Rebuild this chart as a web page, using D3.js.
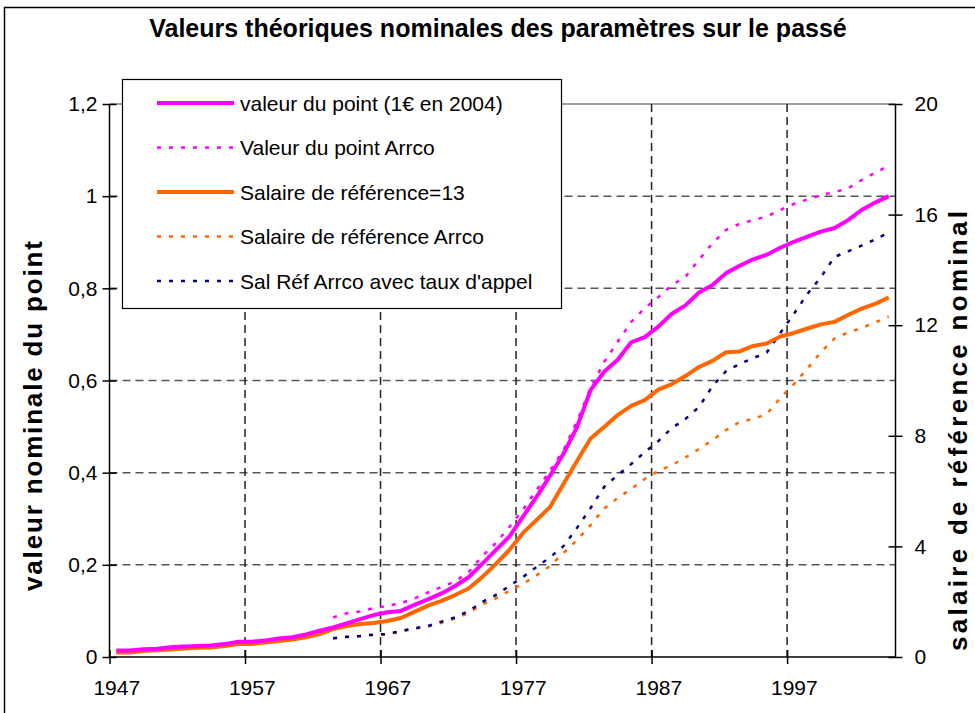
<!DOCTYPE html>
<html><head><meta charset="utf-8">
<script src="https://cdn.jsdelivr.net/npm/d3@7"></script>
<style>body{margin:0;background:#fff} svg text{font-family:"Liberation Sans",Arial,sans-serif;fill:#000}</style>
</head><body><svg id="c" width="975" height="713"></svg>
<script>
// ---------- data ----------
const years = d3.range(1947, 2005);
const xTickYears = [1947, 1957, 1967, 1977, 1987, 1997];
const leftTicks = [0, 0.2, 0.4, 0.6, 0.8, 1.0, 1.2];
const rightTicks = [0, 4, 8, 12, 16, 20];

// valeur du point (1€ en 2004) — left axis, 1947..2004
const pointValue = [0.014,0.014,0.017,0.018,0.021,0.023,0.024,0.025,0.028,0.033,
  0.033,0.036,0.040,0.043,0.049,0.057,0.064,0.073,0.082,0.091,
  0.097,0.100,0.113,0.125,0.138,0.154,0.173,0.202,0.232,0.261,
  0.304,0.347,0.393,0.441,0.499,0.579,0.619,0.645,0.683,0.694,
  0.717,0.745,0.763,0.791,0.807,0.833,0.849,0.863,0.873,0.888,
  0.901,0.912,0.923,0.931,0.948,0.970,0.986,1.000];
// Valeur du point Arrco — left axis, 1963..2004
const pointArrco = [0.086,0.095,0.099,0.106,0.111,0.117,0.127,0.140,0.152,0.164,
  0.184,0.219,0.247,0.282,0.319,0.362,0.404,0.449,0.512,0.584,
  0.640,0.684,0.727,0.757,0.781,0.807,0.825,0.862,0.898,0.927,
  0.940,0.948,0.956,0.970,0.983,0.993,1.002,1.009,1.017,1.035,
  1.051,1.066];
// Salaire de référence=13 — right axis, 1947..2004
const salRef = [0.16,0.16,0.22,0.24,0.27,0.31,0.33,0.34,0.40,0.47,
  0.47,0.52,0.58,0.63,0.71,0.83,1.01,1.12,1.19,1.23,
  1.30,1.41,1.63,1.86,2.03,2.24,2.48,2.89,3.36,3.87,
  4.48,4.95,5.42,6.26,7.09,7.90,8.32,8.75,9.08,9.29,
  9.67,9.87,10.16,10.49,10.71,11.02,11.05,11.25,11.34,11.59,
  11.72,11.88,12.03,12.12,12.37,12.60,12.77,13.00];
// Salaire de référence Arrco — right axis, 1963..2004
const salRefArrco = [0.67,0.72,0.75,0.80,0.82,0.92,1.02,1.10,1.24,1.39,
  1.59,1.90,2.12,2.39,2.64,2.95,3.29,3.76,4.23,4.77,
  5.37,5.75,6.08,6.44,6.73,6.94,7.22,7.52,7.85,8.21,
  8.50,8.61,8.79,9.37,9.87,10.43,11.03,11.52,11.74,11.90,
  12.10,12.31];
// Sal Réf Arrco avec taux d'appel — right axis, 1963..2004
const salRefAppel = [0.68,0.73,0.76,0.81,0.83,0.94,1.04,1.12,1.28,1.43,
  1.66,1.99,2.24,2.57,2.89,3.25,3.60,4.01,4.67,5.39,
  6.15,6.58,6.98,7.41,7.81,8.28,8.61,9.04,9.80,10.34,
  10.60,10.81,11.01,11.72,12.41,13.13,13.74,14.47,14.67,14.88,
  15.10,15.35];
const arrcoStart = 1963;

const seriesNames = ["valeur du point (1€ en 2004)", "Valeur du point Arrco",
  "Salaire de référence=13", "Salaire de référence Arrco", "Sal Réf Arrco avec taux d'appel"];
const seriesColors = ["#FF00FF", "#FF00FF", "#FF6600", "#FF6600", "#000080"];

// ---------- layout ----------
const svg = d3.select("#c");
const L = 109.5, R = 895.5, T = 104, B = 657;
const x = d3.scaleLinear().domain([1946.5, 2004.5]).range([L, R]);
const yL = d3.scaleLinear().domain([0, 1.2]).range([B, T]);
const yR = d3.scaleLinear().domain([0, 20]).range([B, T]);
const fr = d3.formatLocale({decimal: ",", thousands: " ", grouping: [3], currency: ["", "€"]});
const fmt = fr.format("~g");

// outer border
svg.append("rect").attr("x", 4.5).attr("y", 7.5).attr("width", 1000).attr("height", 1000)
  .attr("fill", "none").attr("stroke", "#000").attr("stroke-width", 1.5);

// title
svg.append("text").attr("x", 498).attr("y", 37).attr("text-anchor", "middle")
  .attr("font-weight", "bold").attr("font-size", 25).text("Valeurs théoriques nominales des paramètres sur le passé");

// gridlines
const g = svg.append("g");
g.selectAll("line.hg").data(leftTicks.filter(d => d > 0 && d < 1.2)).join("line")
  .attr("x1", L).attr("x2", R).attr("y1", d => yL(d)).attr("y2", d => yL(d))
  .attr("stroke", "#555").attr("stroke-width", 1.5).attr("stroke-dasharray", "8,5");
g.append("line").attr("x1", L).attr("x2", R).attr("y1", yL(1.2)).attr("y2", yL(1.2))
  .attr("stroke", "#808080").attr("stroke-width", 1.5);
g.selectAll("line.vg").data(xTickYears.slice(1)).join("line")
  .attr("x1", d => x(d - 0.5)).attr("x2", d => x(d - 0.5)).attr("y1", T).attr("y2", B)
  .attr("stroke", "#222").attr("stroke-width", 1.5).attr("stroke-dasharray", "8,5");

// axes
const axL = svg.append("g").attr("transform", `translate(${L},0)`)
  .call(d3.axisLeft(yL).tickValues(leftTicks).tickFormat(fmt).tickSizeInner(7).tickSizeOuter(0).tickPadding(5));
axL.selectAll(".tick line").attr("x2", 7).attr("x1", -7);
const axR = svg.append("g").attr("transform", `translate(${R},0)`)
  .call(d3.axisRight(yR).tickValues(rightTicks).tickFormat(fmt).tickSizeInner(7).tickSizeOuter(0).tickPadding(12));
axR.selectAll(".tick line").attr("x1", -7).attr("x2", 7);
const axB = svg.append("g").attr("transform", `translate(0,${B})`)
  .call(d3.axisBottom(x).tickValues(xTickYears.map(d => d - 0.5)).tickFormat(d => d + 0.5)
    .tickSizeInner(7).tickSizeOuter(0).tickPadding(16));
axB.selectAll(".tick line").attr("y1", -7).attr("y2", 7);
axB.selectAll(".tick text").attr("x", x(1948) - x(1947.5));
[axL, axR, axB].forEach(a => {
  a.selectAll(".domain").attr("stroke", "#000").attr("stroke-width", 1.5);
  a.selectAll(".tick line").attr("stroke", "#000").attr("stroke-width", 1.5);
  a.selectAll(".tick text").attr("font-size", 21).attr("font-family", '"Liberation Sans",Arial,sans-serif');
});
axB.select(".domain").attr("d", `M${L},0H${R}`);
axL.select(".domain").attr("d", `M0,${T}V${B}`);
axR.select(".domain").attr("d", `M0,${T}V${B}`);

// axis titles
svg.append("text").attr("transform", `translate(42,416) rotate(-90)`)
  .attr("text-anchor", "middle").attr("font-weight", "bold").attr("font-size", 26)
  .attr("textLength", 350).attr("lengthAdjust", "spacing")
  .text("valeur nominale du point");
svg.append("text").attr("transform", `translate(967,431) rotate(-90)`)
  .attr("text-anchor", "middle").attr("font-weight", "bold").attr("font-size", 26)
  .attr("textLength", 440).attr("lengthAdjust", "spacing")
  .text("salaire de référence nominal");

// series
const toPts = (vals, start) => vals.map((v, i) => ({year: start + i, v}));
const series = [
  {pts: toPts(pointValue, 1947), y: yL, dash: null, w: 4},
  {pts: toPts(pointArrco, arrcoStart), y: yL, dash: "4,8", w: 2.5},
  {pts: toPts(salRef, 1947), y: yR, dash: null, w: 4},
  {pts: toPts(salRefArrco, arrcoStart), y: yR, dash: "4,8", w: 2.5},
  {pts: toPts(salRefAppel, arrcoStart), y: yR, dash: "4,8", w: 2.5}
];
const drawOrder = [3, 4, 1, 2, 0];
drawOrder.forEach(i => {
  const s = series[i];
  const line = d3.line().x(d => x(d.year)).y(d => s.y(d.v));
  svg.append("path").attr("d", line(s.pts)).attr("fill", "none")
    .attr("stroke", seriesColors[i]).attr("stroke-width", s.w)
    .attr("stroke-linejoin", "round").attr("stroke-dasharray", s.dash);
});

// legend
const lg = svg.append("g");
lg.append("rect").attr("x", 122.5).attr("y", 79.5).attr("width", 439).attr("height", 229)
  .attr("fill", "#fff").attr("stroke", "#000").attr("stroke-width", 1.2);
seriesNames.forEach((n, i) => {
  const yy = 103 + i * 44.5;
  lg.append("line").attr("x1", 157).attr("x2", 234).attr("y1", yy).attr("y2", yy)
    .attr("stroke", seriesColors[i]).attr("stroke-width", series[i].w)
    .attr("stroke-dasharray", series[i].dash);
  lg.append("text").attr("x", 240).attr("y", yy + 7.5).attr("font-size", 21).text(n);
});
</script></body></html>
